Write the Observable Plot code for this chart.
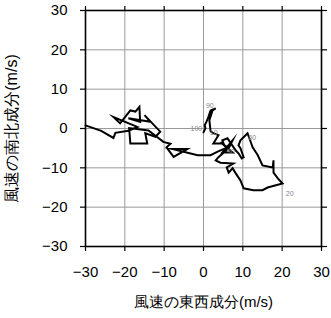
<!DOCTYPE html>
<html><head><meta charset="utf-8">
<script src="https://cdn.jsdelivr.net/npm/d3@7"></script>
<script src="https://cdn.jsdelivr.net/npm/@observablehq/plot@0.6"></script>
<style>body{margin:0;background:#fff}</style>
</head><body><div id="chart"></div>
<script>
// wind components (m/s): east-west (u) and north-south (v)
const u = [-30,-26.0,-22.9,-22.4,-19.1,-16.8,-22.9,-21.2,-18.6,-17.3,-16.3,-16.1,-19.1,-13.5,-15.0,-11.0,-12.2,-14.8,-14.3,-18.6,-18.9,-14.0,-10.2,-8.4,-9.4,-7.6,-4.1,-7.9,-1.5,1.8,3.6,6.1,4.3,7.4,4.8,7.4,6.4,3.8,3.1,4.3,7.6,5.9,6.4,7.4,8.2,9.4,10.2,12.7,15.0,16.3,20.1,18.9,17.8,17.8,17.6,15.0,13.8,12.5,11.2,10.7,9.4,8.9,9.4,10.2,9.7,8.9,8.2,6.1,4.8,5.1,2.5,3.8,2.5,1.8,1.5,2.3,3.1,1.8,1.3,0.8,0.3,0.5,0.0];
const v = [0.8,-0.6,-2.4,-1.1,-0.6,0.4,2.9,1.3,4.6,4.3,5.5,1.7,2.6,1.7,3.4,-0.8,-2.1,-1.2,-3.8,-3.8,0.1,-0.5,-3.4,-3.9,-4.8,-7.2,-5.2,-5.2,-6.8,-6.8,-5.9,-4.8,-3.5,-6.1,-6.1,-3.0,-5.0,-7.3,-8.1,-8.7,-8.9,-9.9,-11.2,-10.1,-11.4,-13.2,-15.2,-15.7,-15.7,-15.0,-14.0,-12.7,-11.2,-8.1,-9.9,-9.4,-6.8,-4.8,-1.2,-1.7,-3.0,-4.3,-5.0,-7.3,-7.6,-6.3,-5.6,-2.5,-3.0,-3.8,-3.8,-1.7,-1.2,-0.7,2.1,4.6,5.1,4.6,3.1,1.8,0.8,0.1,-1.0];
// small point labels
const labelText = ["20","30","60","90","100","10"];
const labelU = [21.9, 6.9, 12.4, 1.6, -1.8, 2.6];
const labelV = [-16.5, -6.0, -2.3, 5.7, 0.0, -1.1];
const ticks = [-30,-20,-10,0,10,20,30];
const xTitle = "風速の東西成分(m/s)";
const yTitle = "風速の南北成分(m/s)";

const pts = u.map((d, i) => ({u: d, v: v[i]}));
const labels = labelText.map((t, i) => ({t, u: labelU[i], v: labelV[i]}));

const chart = Plot.plot({
  width: 331, height: 318,
  marginLeft: 85, marginRight: 10, marginTop: 10, marginBottom: 72,
  style: {fontFamily: "'Liberation Sans', Arial, sans-serif", fontSize: "15px", background: "#fff", color: "#000"},
  x: {domain: [-30, 30], ticks, label: null},
  y: {domain: [-30, 30], ticks, label: null},
  marks: [
    Plot.gridX(ticks, {stroke: "#9a9a9a", strokeOpacity: 1, strokeWidth: 1}),
    Plot.gridY(ticks, {stroke: "#9a9a9a", strokeOpacity: 1, strokeWidth: 1}),
    Plot.line(pts, {x: "u", y: "v", stroke: "#000", strokeWidth: 2, strokeLinejoin: "miter", strokeMiterlimit: 10}),
    Plot.text(labels, {x: "u", y: "v", text: "t", fontSize: 7, fill: "#888"}),
    Plot.frame({stroke: "#000", strokeWidth: 1.6}),
    Plot.axisX(ticks, {anchor: "bottom", tickSize: 5, tickPadding: 15, strokeWidth: 1.2, label: null, fontSize: 15}),
    Plot.axisX(ticks, {anchor: "top", tickSize: 5, strokeWidth: 1.2, label: null, tickFormat: () => ""}),
    Plot.axisY(ticks, {anchor: "left", tickSize: 5, tickPadding: 13, strokeWidth: 1.2, label: null, fontSize: 15}),
    Plot.axisY(ticks, {anchor: "right", tickSize: 5, strokeWidth: 1.2, label: null, tickFormat: () => ""}),
    Plot.text([xTitle], {frameAnchor: "bottom", dy: 60, text: d => d, fontSize: 15, textAnchor: "middle"}),
    Plot.text([yTitle], {frameAnchor: "left", dx: -74, rotate: -90, text: d => d, fontSize: 16, textAnchor: "middle"})
  ]
});
document.getElementById("chart").appendChild(chart);
</script>
</body></html>
